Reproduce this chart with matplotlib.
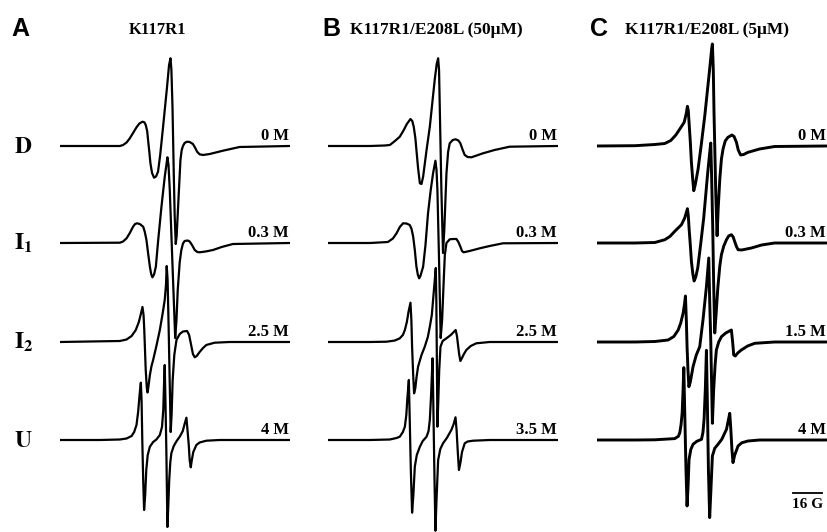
import matplotlib.pyplot as plt

plt.rcParams["mathtext.fontset"] = "stix"

# ---- traced spectra: field (G from sweep start) and amplitude (a.u.) ----
# panel A, K117R1
a_d_field = [0, 33.1, 34.9, 36.8, 38.6, 40.4, 42.3, 43.9, 45.6, 46.7, 47.4, 48.2, 48.7, 49.4, 50.0,
             50.9, 52.0, 53.1, 54.2, 55.4, 57.0, 59.2, 60.3, 61.1, 61.6, 62.2, 62.9, 63.4, 64.0,
             64.5, 65.3, 66.6, 67.3, 68.0, 68.9, 70.2, 71.7, 73.5, 74.8, 75.8, 77.2, 79.1, 82.8,
             90.1, 99.3, 126.9]
a_d_amp = [0, 0, 1, 3.5, 7.7, 13, 18.7, 22.5, 24.3, 23.7, 21, 15, 6, -6, -17.3,
           -27, -31.7, -30.5, -25.7, -9, 19.3, 59.3, 81, 87.7, 76, 39.3, -27, -69, -98,
           -90, -60.7, -14, -4, 0, 3, 4.3, 4, 2, -2, -5.7, -8.3, -9, -8,
           -4.7, -1, 0]
a_i1_field = [0, 33.1, 34.9, 36.8, 38.6, 40.4, 41.5, 42.6, 44.1, 46.0, 46.9, 47.8, 48.7, 49.7, 50.4,
              51.1, 52.0, 53.0, 54.3, 56.1, 57.9, 59.4, 60.0, 60.7, 62.1, 63.7, 64.4, 65.1, 66.2,
              67.1, 68.0, 68.9, 70.6, 71.7, 73.0, 74.5, 75.9, 77.2, 80.5, 84.6, 89.4, 95.6, 126.9]
a_i1_amp = [0, 0.3, 1.5, 4.7, 10, 16.3, 19, 19.7, 19, 16.3, 11, 3, -10, -23.7, -31,
            -34.3, -31.5, -23.7, 3, 36.3, 66, 85.7, 78, 53, -17, -95, -77, -47, -19,
            -7, -0.5, 2, 2.5, 1.5, -2, -7, -9, -9.3, -8.5, -7, -4, -1, 0]
a_i2_field = [0, 33.1, 36.8, 39.6, 41.9, 43.6, 44.7, 45.6, 46.2, 46.6, 47.4, 48.0, 48.4, 48.8, 49.7,
              50.6, 51.5, 53.3, 55.2, 56.8, 57.9, 58.6, 59.0, 59.5, 60.1, 60.7, 61.2, 61.7, 62.3,
              63.2, 64.4, 66.2, 68.0, 70.3, 71.4, 72.7, 73.5, 74.5, 75.6, 77.2, 79.1, 80.9, 85.5,
              93.8, 126.9]
a_i2_amp = [0, 1, 2.5, 6, 12, 20, 28, 35, 27, 12, -28, -46, -50.5, -46, -33,
            -24, -18, -4, 12, 29, 42, 57, 76, 62, 12, -43, -90, -73, -38,
            -13, 2, 8, 10.5, 11, 7, -4.7, -12, -15.3, -14, -10, -6, -3, -0.7,
            0, 0]
a_u_field = [0, 22.1, 33.1, 36.8, 39.6, 41.0, 42.3, 43.2, 44.0, 44.7, 45.1, 45.5, 46.0, 46.5, 47.1,
             47.7, 48.5, 49.7, 51.5, 53.3, 55.2, 56.4, 57.1, 57.5, 57.9, 58.3, 58.8, 59.4, 59.9,
             60.4, 61.0, 61.6, 62.9, 64.5, 66.2, 67.9, 68.9, 69.9, 70.5, 71.2, 71.7, 72.3, 72.9,
             73.7, 75.4, 77.2, 80.9, 88.3, 126.9]
a_u_amp = [0, 0, 0.5, 1.5, 4, 8, 15, 28, 45, 57.3, 40, 0, -40, -70, -55,
           -30, -15, -6.7, -2, 0.5, 5, 13, 30, 55, 75, 40, -10, -87, -65,
           -40, -22, -13, -6, -1, 3.3, 9, 16, 22.3, 10, -5, -20, -27.3, -20,
           -12, -5, -2.5, -0.7, 0, 0]

# panel B, K117R1/E208L (50 uM)
b_d_field = [0, 23.2, 31.4, 34.2, 37.0, 39.7, 41.9, 43.6, 45.6, 46.6, 47.4, 48.3, 48.9, 49.8, 50.8,
             51.7, 52.6, 54.5, 56.3, 59.0, 60.1, 60.9, 61.4, 61.8, 62.7, 63.6, 64.3, 65.5, 66.4,
             67.3, 69.0, 70.6, 72.1, 73.2, 74.5, 75.6, 77.2, 79.3, 82.2, 85.7, 92.1, 100.4, 126.9]
b_d_amp = [0, 0, 0.5, 1, 5, 9.3, 16, 22, 27, 25, 19.3, 8, -4, -22, -37.3,
           -38, -30.7, -4, 19.3, 66, 82, 87.7, 76, 39.3, -44, -107, -84, -27.3, -6,
           2.7, 6, 6.7, 5.5, 2.7, -4, -9, -11, -11.3, -9.5, -7.3, -4, -0.7, 0]
b_i1_field = [0, 23.2, 33.1, 35.9, 37.9, 39.7, 41.5, 43.4, 45.2, 46.2, 47.1, 48.0, 48.9, 49.7, 50.4,
              51.1, 52.6, 53.9, 55.3, 56.8, 58.1, 59.4, 60.0, 60.5, 61.4, 62.3, 63.1, 64.0, 64.6,
              65.5, 67.3, 69.1, 71.0, 72.1, 73.2, 74.1, 75.0, 78.3, 83.9, 89.4, 96.7, 126.9]
b_i1_amp = [0, 0, 1, 4.5, 9.7, 16, 19.7, 19.5, 18, 14, 6.3, -7, -23.7, -32, -35.3,
            -33, -23.7, -2, 29.7, 53, 69.7, 82.3, 73, 53, -17, -95, -77, -37, -12,
            0, 3.7, 4, 4, 1, -3.7, -8, -9.3, -8, -5.3, -3, -0.3, 0]
b_i2_field = [0, 23.2, 32.4, 37.0, 39.7, 41.4, 42.5, 43.6, 44.5, 45.6, 46.1, 46.5, 47.1, 47.6, 48.3,
              48.9, 49.8, 51.7, 53.5, 55.2, 56.3, 57.4, 58.1, 58.8, 59.6, 59.9, 60.1, 60.5, 61.0,
              61.5, 62.2, 63.4, 65.5, 67.9, 70.6, 71.3, 71.9, 72.5, 73.2, 74.1, 75.0, 76.5, 78.9,
              82.0, 89.4, 126.9]
b_i2_amp = [0, 0, 0.3, 1.5, 3.7, 7, 12, 20, 30, 39.3, 22, -4.7, -33, -51.3, -46,
            -36, -24.7, -13, -4.7, 5, 15.3, 27, 42, 57, 74, 42, 2, -84.7, -58,
            -28, -4.7, 1, 3.7, 7, 12, 6, -3, -12, -19, -16, -12.5, -8, -4,
            -1.3, 0, 0]
b_u_field = [0, 23.2, 34.2, 37.9, 39.7, 41.4, 42.5, 43.3, 43.9, 44.7, 45.2, 45.8, 46.5, 47.2, 48.0,
             49.1, 50.8, 52.4, 54.5, 55.6, 56.3, 57.0, 57.8, 58.2, 58.8, 59.4, 60.0, 60.9, 62.1,
             63.6, 65.7, 68.2, 69.5, 70.5, 71.1, 71.7, 72.4, 73.2, 74.1, 75.6, 77.2, 80.2, 89.4,
             126.9]
b_u_amp = [0, 0, 0.5, 2, 3.3, 8, 13.3, 25, 42, 60, 20, -30, -72.7, -55, -26.7,
           -15, -6.7, -1, 3.3, 9, 20, 45, 81.7, 40, -30, -90.7, -60, -20, -9,
           -3.3, 2, 10, 16, 22.7, 10, -10, -30, -23, -12, -3.3, -1.5, -0.7, 0,
           0]

# panel C, K117R1/E208L (5 uM)
c_d_field = [0, 21.0, 32.0, 37.5, 40.8, 43.6, 45.8, 48.2, 49.3, 50.0, 50.5, 50.9, 51.6, 52.2, 53.0,
             53.5, 54.3, 55.9, 57.7, 59.6, 62.3, 63.4, 63.8, 64.3, 64.7, 65.7, 66.4, 67.0, 67.9,
             68.8, 69.7, 70.9, 72.4, 74.6, 75.8, 77.1, 78.1, 79.4, 81.1, 83.5, 89.9, 98.2, 126.9]
c_d_amp = [0, 0.3, 1.5, 2.5, 5.5, 11, 17, 23.7, 32, 39.7, 35, 23.7, 4, -16.3, -35,
           -44.7, -39, -23, 2, 30.3, 77, 97, 102, 77, 33.7, -49.7, -89.7, -63, -33,
           -13, -3, 5, 8.7, 11, 9.5, 3.7, -4, -9, -8.5, -6.3, -3, -0.5, 0]
c_i1_field = [0, 21.0, 32.0, 37.5, 40.3, 43.0, 46.7, 48.5, 50.0, 50.5, 50.9, 51.6, 52.2, 53.0, 53.7,
              54.6, 55.7, 57.4, 59.0, 61.2, 62.3, 62.9, 63.4, 64.0, 64.5, 65.1, 65.9, 66.8, 67.9,
              68.8, 70.1, 71.6, 72.8, 74.3, 75.3, 76.1, 77.1, 78.0, 80.0, 85.4, 91.0, 98.2, 126.9]
c_i1_amp = [0, 0, 0.5, 3.3, 6.5, 11.7, 18.3, 25, 34.3, 27, 15, -2, -18.3, -31, -38,
            -34, -25, 0, 25, 70, 90, 100, 65, 15, -40, -90, -70, -45, -23,
            -11.7, -3, 3.3, 7, 8.3, 6, 1.7, -3.5, -6.7, -7, -5, -2, 0, 0]
c_i2_field = [0, 21.0, 32.0, 39.3, 42.5, 44.9, 46.3, 47.6, 48.4, 48.9, 49.4, 49.8, 50.3, 50.8, 51.6,
              53.1, 54.9, 56.8, 58.6, 60.5, 61.8, 62.3, 62.9, 63.8, 64.5, 65.3, 66.0, 67.3, 68.8,
              71.2, 74.3, 75.0, 75.6, 76.5, 77.8, 79.8, 83.3, 87.2, 98.2, 126.9]
c_i2_amp = [0, 0, 0.5, 2, 5.5, 12, 19, 28.7, 38, 46, 22, -4.7, -28, -44.7, -40,
            -24.7, -13, -4.7, 22, 55.3, 84, 42, 2, -81.3, -48, -23, -8, 0, 5.3,
            9, 12, 0, -13, -14, -11, -8, -4, -1.3, 0, 0]
c_u_field = [0, 21.0, 32.0, 43.0, 45.0, 45.8, 46.5, 47.1, 47.6, 48.0, 48.6, 49.2, 49.8, 50.4, 50.9,
             51.9, 53.1, 55.2, 57.8, 58.6, 59.2, 59.9, 60.5, 61.0, 61.6, 62.3, 63.0, 63.8, 65.1,
             66.9, 69.0, 71.6, 72.5, 73.4, 74.0, 74.6, 75.2, 76.1, 78.0, 80.0, 83.5, 89.9, 126.9]
c_u_amp = [0, 0, 0.2, 1.4, 3.7, 7.4, 15.7, 27.4, 50.7, 72.4, 20.7, -29.3, -66, -44.3, -19.3,
           -9.3, -4.3, -1.3, 0.7, 7.7, 20.7, 50.7, 89.7, 40.7, -29.3, -77.6, -49.3, -16, -8.3,
           -4.3, 0.7, 10.7, 18.7, 26.7, 10.7, -9.3, -22.6, -15.3, -6, -2.8, -1, 0, 0]

row_names = ["D", "I_1", "I_2", "U"]
a_conc = ["0 M", "0.3 M", "2.5 M", "4 M"]
b_conc = ["0 M", "0.3 M", "2.5 M", "3.5 M"]
c_conc = ["0 M", "0.3 M", "1.5 M", "4 M"]
scale_bar_gauss = 16

# ---- layout ----
W, H = 827, 532
sweep = 126.9                       # G shown per panel
row_base = [-146, -243, -342, -440]
serif = "Liberation Serif"
sans = "Liberation Sans"

fig = plt.figure(figsize=(W / 100, H / 100), dpi=100)

panels = [
    ("A", "K117R1", 60, a_conc, 1.6,
     [(a_d_field, a_d_amp), (a_i1_field, a_i1_amp), (a_i2_field, a_i2_amp), (a_u_field, a_u_amp)]),
    ("B", "K117R1/E208L (50\u03bcM)", 328, b_conc, 1.6,
     [(b_d_field, b_d_amp), (b_i1_field, b_i1_amp), (b_i2_field, b_i2_amp), (b_u_field, b_u_amp)]),
    ("C", "K117R1/E208L (5\u03bcM)", 597, c_conc, 2.1,
     [(c_d_field, c_d_amp), (c_i1_field, c_i1_amp), (c_i2_field, c_i2_amp), (c_u_field, c_u_amp)]),
]

axes = []
for letter, title, x0, concs, lw, spectra in panels:
    ax = fig.add_axes([x0 / W, 0, 229.5 / W, 1])
    ax.set_xlim(0, sweep)
    ax.set_ylim(-H, 0)
    ax.axis("off")
    for (fld, amp), base, conc in zip(spectra, row_base, concs):
        ax.plot(fld, [base + v for v in amp], color="black", lw=lw,
                solid_joinstyle="round", solid_capstyle="round")
        ax.text(sweep - 0.5, base + 6, conc, ha="right", va="baseline",
                fontsize=12, fontweight="bold", family=serif)
    axes.append(ax)

# panel letters and titles
fig.text(11 / W, 1 - 35.5 / H, "A", fontsize=18, fontweight="bold", family=sans, va="baseline")
fig.text(158 / W, 1 - 34 / H, "K117R1", fontsize=12, fontweight="bold", family=serif,
         ha="center", va="baseline")
fig.text(322 / W, 1 - 35.5 / H, "B", fontsize=18, fontweight="bold", family=sans, va="baseline")
fig.text(350 / W, 1 - 34 / H, panels[1][1], fontsize=12.5, fontweight="bold", family=serif,
         va="baseline")
fig.text(590 / W, 1 - 35.5 / H, "C", fontsize=18, fontweight="bold", family=sans, va="baseline")
fig.text(625 / W, 1 - 34 / H, panels[2][1], fontsize=12.5, fontweight="bold", family=serif,
         va="baseline")

# state labels on the left
for name, base in zip(row_names, row_base):
    fig.text(14 / W, 1 + base / H, r"$\mathbf{%s}$" % name, fontsize=17,
             ha="left", va="center")

# 16 G scale bar in panel C
axc = axes[2]
bar_end = sweep - 2.6
axc.plot([bar_end - scale_bar_gauss, bar_end], [-493, -493], color="black", lw=1.3)
axc.text(bar_end - scale_bar_gauss / 2, -498, "%d G" % scale_bar_gauss, ha="center", va="top",
         fontsize=11, fontweight="bold", family=serif)

fig.savefig("out.png", dpi=100)
